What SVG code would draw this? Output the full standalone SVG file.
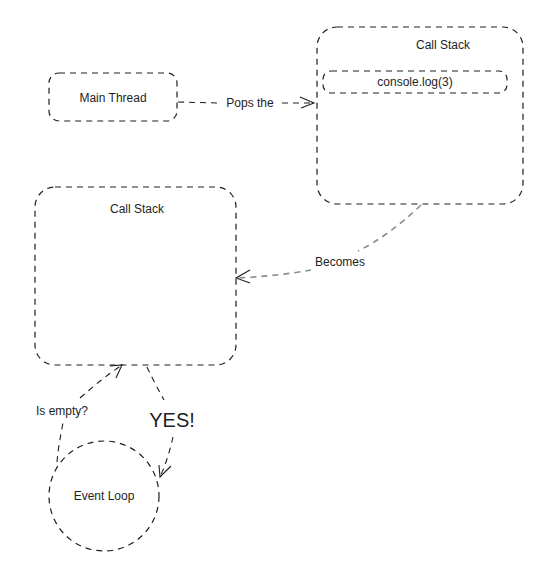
<svg xmlns="http://www.w3.org/2000/svg" width="555" height="563" viewBox="0 0 555 563">
<style>
.box{fill:none;stroke:#1e1e1e;stroke-width:1.2;stroke-dasharray:6 5}
.conn{fill:none;stroke:#1e1e1e;stroke-width:1.1;stroke-dasharray:6 5}
.gray{stroke:#868e96;stroke-width:1.6}
.head{fill:none;stroke:#1e1e1e;stroke-width:1.1}
.t{font-family:"Liberation Sans",Arial,sans-serif;font-size:12px;fill:#1e1e1e;text-anchor:middle;dominant-baseline:central}
</style>
<rect width="555" height="563" fill="#ffffff"/>
<g id="connectors">
  <g id="pops">
    <path class="conn" d="M178 102 L218 103"/>
    <path class="conn" d="M282 103 L313 103"/>
    <path class="head" d="M300 97 L314 103 L301 108"/>
    <text class="t" x="250" y="103">Pops the</text>
  </g>
  <g id="becomes">
    <path class="conn gray" d="M421 205 C400 225 380 240 358 251"/>
    <path class="conn gray" d="M311 270 C290 274 260 277 237 278"/>
    <path class="head gray" d="M250 270 L236 278 L250 283"/>
    <text class="t" x="340" y="262">Becomes</text>
  </g>
  <g id="isempty">
    <path class="conn" d="M57 462 C58 450 60 438 63 423"/>
    <path class="conn" d="M80 398 C95 385 108 374 121 366"/>
    <path class="head" d="M110 366 L122 365 L116 378"/>
    <text class="t" x="62" y="411">Is empty?</text>
  </g>
  <g id="yes">
    <path class="conn" d="M147 367 C152 378 158 389 164 400"/>
    <path class="conn" d="M173 437 C170 450 166 464 160 477"/>
    <path class="head" d="M159 465 L160 477 L171 466"/>
    <text x="172" y="420" style="font-family:'Liberation Sans',Arial,sans-serif;font-size:20px;fill:#1e1e1e;text-anchor:middle;dominant-baseline:central">YES!</text>
  </g>
</g>
<g id="main-thread">
  <rect class="box" x="49" y="73" width="128" height="48" rx="10"/>
  <text class="t" x="113" y="98">Main Thread</text>
</g>
<g id="call-stack-1">
  <rect class="box" x="317" y="27" width="206" height="177" rx="20"/>
  <text class="t" x="443" y="45">Call Stack</text>
</g>
<g id="console-log">
  <rect class="box" x="323" y="71" width="184" height="22" rx="8"/>
  <text class="t" x="415" y="82">console.log(3)</text>
</g>
<g id="call-stack-2">
  <rect class="box" x="35" y="187" width="201" height="178" rx="20"/>
  <text class="t" x="137" y="209">Call Stack</text>
</g>
<g id="event-loop">
  <circle class="box" cx="104" cy="496" r="55"/>
  <text class="t" x="104" y="496">Event Loop</text>
</g>
</svg>
